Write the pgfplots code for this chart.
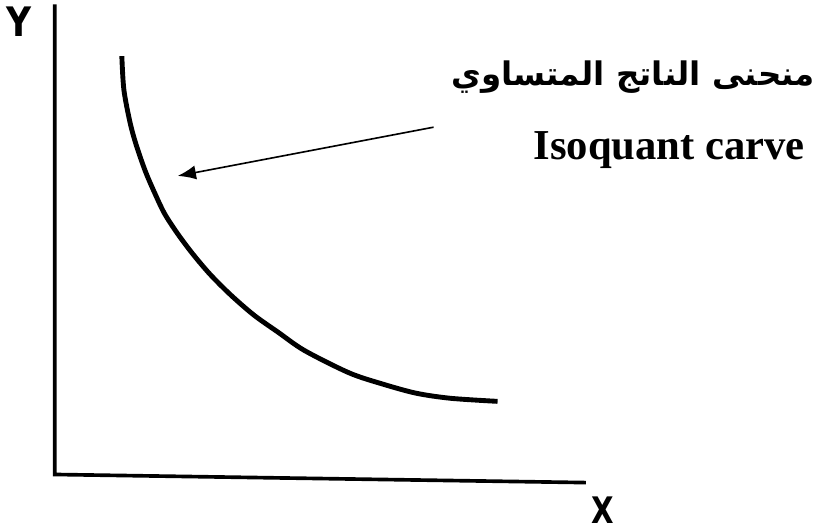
\documentclass[border=0pt]{standalone}
\usepackage{fontspec}
\usepackage{pgfplots}
\pgfplotsset{compat=1.18}
\usetikzlibrary{arrows.meta}
\TeXXeTstate=1
\setmainfont{Liberation Serif}
\newfontfamily\arabicfont[Script=Arabic]{DejaVu Sans}
\newfontfamily\sansbold{DejaVu Sans}
\begin{document}
\begin{tikzpicture}
\begin{axis}[
  scale only axis, width=407.5pt, height=262.5pt,
  xmin=0, xmax=815, ymin=0, ymax=525, y dir=reverse,
  hide axis, clip=false,
]
% axes
\addplot[black, line width=1.8pt, no marks] coordinates {(57,4) (57,467) (580,475)};
% isoquant
\addplot[black, line width=2.4pt, no marks, smooth, tension=0.5] coordinates {
(123,55) (125,88) (131,120) (137,142) (146,168) (155,189) (165,210) (178,230)
(193,250) (210,270) (230,290) (253,310) (277,327) (303,345) (347,367) (380,378)
(413,387) (447,392) (493,395)};
% arrow
\addplot[black, line width=0.8pt, no marks, -{Latex[length=9pt,width=7pt]}] coordinates {(430,125) (178,173)};
\node[anchor=center, font=\sansbold\bfseries\fontsize{20}{22}\selectfont] at (axis cs:22,21) {\scalebox{0.85}[1]{Y}};
\node[anchor=center, font=\sansbold\bfseries\fontsize{18}{20}\selectfont] at (axis cs:597,502) {\scalebox{0.8}[1]{X}};
\node[anchor=base east, font=\bfseries\fontsize{21}{24}\selectfont, inner sep=0pt] at (axis cs:796,157) {Isoquant carve};
\node[anchor=east, font=\arabicfont\bfseries\fontsize{16}{20}\selectfont, inner sep=0pt] at (axis cs:806,76) {\beginR منحنى الناتج المتساوي\endR};
\end{axis}
\end{tikzpicture}
\end{document}
